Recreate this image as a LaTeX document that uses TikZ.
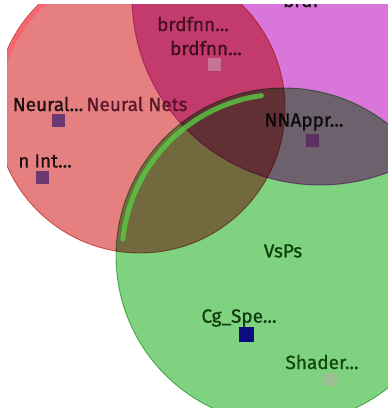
\documentclass[tikz,border=0pt]{standalone}
\usepackage{fontspec}
\setmainfont{Fira Sans}
\newfontfamily\labelfont{Fira Sans}[FakeBold=0.9]
\definecolor{redfill}{RGB}{230,128,128}
\definecolor{redline}{RGB}{218,116,116}
\definecolor{magfill}{RGB}{217,118,217}
\definecolor{magline}{RGB}{205,108,205}
\definecolor{grnfill}{RGB}{127,210,127}
\definecolor{grnline}{RGB}{108,188,108}
\definecolor{grnglow}{RGB}{86,204,66}
\definecolor{redglow}{RGB}{250,96,112}
\definecolor{itempurple}{RGB}{108,58,112}
\definecolor{itemrose}{RGB}{196,116,150}
\definecolor{itemnavy}{RGB}{12,12,128}
\definecolor{itemsage}{RGB}{158,190,148}
\definecolor{netsmaroon}{RGB}{74,14,34}
\begin{document}
\begin{tikzpicture}[x=1pt,y=-1pt,
  lbl/.style={inner sep=0pt, font=\labelfont\fontsize{19}{22}\selectfont, text=black, text opacity=0.85},
  clusterlbl/.style={lbl, text opacity=0.9},
  itembox/.style={minimum size=13pt, inner sep=0pt, draw=none},
  blob/.style={line width=0.9pt}]
\useasboundingbox (0,0) rectangle (388,408);
\fill[white] (0,0) rectangle (388,408);
\begin{scope}
  \clip (7,4) rectangle (388,408);
  % the three overlapping clusters, darkened where they overlap
  \begin{scope}[blend group=multiply]
    \filldraw[blob, fill=redfill, draw=redline] (140,108) circle[radius=145];
    \filldraw[blob, fill=magfill, draw=magline] (320,-3) circle[radius=188];
    \filldraw[blob, fill=grnfill, draw=grnline] (284,256) circle[radius=168];
  \end{scope}
  % rim highlights
  \draw[redglow, line width=4pt, line cap=round, opacity=0.85]
    (140,108) ++(190:142) arc[start angle=190, end angle=250, radius=142];
  \draw[grnglow, line width=5pt, line cap=round, opacity=0.8]
    (284,256) ++(186:162) arc[start angle=186, end angle=262, radius=162];

  % cluster labels
  \node[clusterlbl, anchor=base] (brdf) at (301,7) {brdf};
  \node[clusterlbl, text=black!80!green] (vsps) at (283,251) {VsPs};

  % items with their markers
  \node[itembox, fill=itemrose] (bsq) at (214,64) {};
  \node[lbl, text=netsmaroon!70!black] (brdfA) at (193,24) {brdfnn...};
  \node[lbl, text=netsmaroon!60!black] (brdfB) at (206,48) {brdfnn...};

  \node[itembox, fill=itempurple] (nsq) at (58,120) {};
  \node[lbl] (neural) at (48,104) {Neural...};
  \node[clusterlbl, text=netsmaroon] (nets) at (137,104) {Neural Nets};

  \node[itembox, fill=itempurple] (isq) at (42,177) {};
  \node[lbl, anchor=east] (inter) at (72,161) {n Int...};

  \node[itembox, fill=itempurple!85!black] (asq) at (312,140) {};
  \node[lbl] (nnappr) at (304,122) {NNAppr...};

  \node[itembox, fill=itemnavy, minimum size=15pt] (csq) at (246,334) {};
  \node[lbl, text=black!85!green] (cgspe) at (239,318) {Cg\_Spe...};

  \node[itembox, fill=itemsage] (ssq) at (330,379) {};
  \node[lbl, text=black!80!green] (shader) at (322,362) {Shader...};
\end{scope}
\end{tikzpicture}
\end{document}
